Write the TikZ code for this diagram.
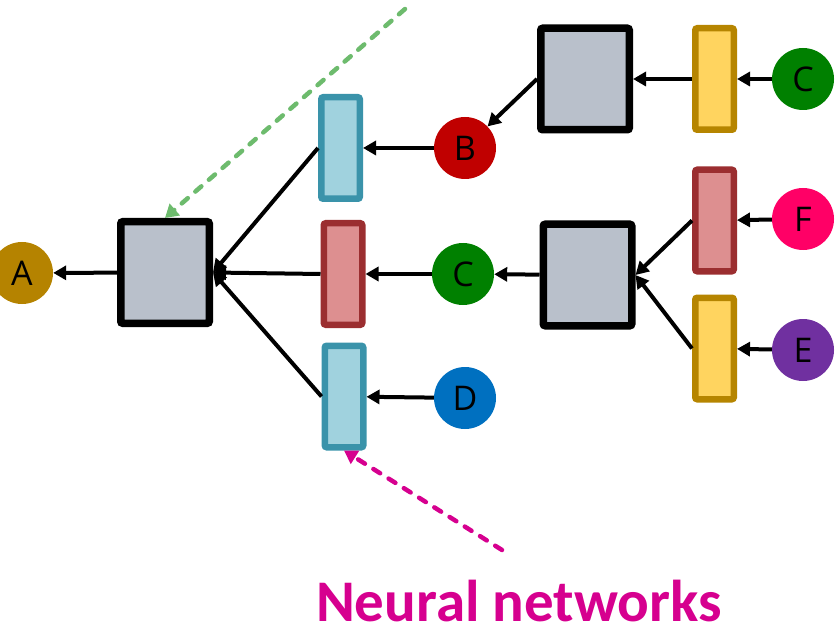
\documentclass[tikz,border=0pt]{standalone}
\usepackage{fontspec}
\setmainfont{Open Sans}
\newfontfamily\notefont{Carlito}
\usepackage{xcolor}
\usepackage{tikz}
\usetikzlibrary{
    positioning,
    arrows.meta
}
\definecolor{boxgray}{HTML}{B9C0CB}
\definecolor{blueedge}{HTML}{3A93AA}
\definecolor{bluefill}{HTML}{A0D2DE}
\definecolor{rededge}{HTML}{9B2E30}
\definecolor{redfill}{HTML}{DD8F90}
\definecolor{yellowedge}{HTML}{B68500}
\definecolor{yellowfill}{HTML}{FFD45F}
\definecolor{wordA}{HTML}{B58300}
\definecolor{wordB}{HTML}{C00000}
\definecolor{wordC}{HTML}{008000}
\definecolor{wordD}{HTML}{0070C0}
\definecolor{wordE}{HTML}{7030A0}
\definecolor{wordF}{HTML}{FF0066}
\definecolor{hintgreen}{HTML}{6DBB6D}
\definecolor{hintpink}{HTML}{D6008F}
\tikzset{
  combiner/.style = {
      draw=black,
      line width=7.5pt,
      fill=boxgray,
      rounded corners=2pt,
      minimum width=88.5pt,
      minimum height=101.5pt,
      inner sep=0pt
  },
  layer/.style = {
      line width=6.5pt,
      rounded corners=2pt,
      minimum width=38.5pt,
      minimum height=101.5pt,
      inner sep=0pt
  },
  bluelayer/.style = {
      layer,
      draw=blueedge,
      fill=bluefill
  },
  redlayer/.style = {
      layer,
      draw=rededge,
      fill=redfill
  },
  yellowlayer/.style = {
      layer,
      draw=yellowedge,
      fill=yellowfill
  },
  word/.style = {
      circle,
      minimum size=62pt,
      inner sep=0pt,
      font=\fontsize{34}{34}\selectfont
  },
  link/.style = {
      line width=4pt,
      -{Triangle[length=13pt,width=14pt]}
  },
  hint/.style = {
      line width=4.5pt,
      line cap=round,
      dash pattern=on 8pt off 10pt,
      -{Triangle[length=13pt,width=15pt]}
  }
}
\begin{document}
\begin{tikzpicture}[x=1pt, y=-1pt]
    \useasboundingbox (0,0) rectangle (837,628);
    % Nodes
    \node[word, fill=wordA] (A) at (22,273) {A};
    \node[combiner] (lbox) at (165,272.5) {};
    \node[bluelayer] (btop) at (340.5,148) {};
    \node[redlayer] (rmid) at (343,274) {};
    \node[bluelayer] (bbot) at (344,396.5) {};
    \node[word, fill=wordB] (B) at (465,148) {B};
    \node[word, fill=wordC] (C2) at (463,274) {C};
    \node[word, fill=wordD] (D) at (465,398) {D};
    \node[combiner] (tbox) at (585,79) {};
    \node[combiner] (mbox) at (587.5,275) {};
    \node[yellowlayer] (ytop) at (714.5,79) {};
    \node[redlayer] (rright) at (714.5,220.5) {};
    \node[yellowlayer] (ybot) at (714.5,348.5) {};
    \node[word, fill=wordC] (C1) at (803,79) {C};
    \node[word, fill=wordF] (F) at (803,219) {F};
    \node[word, fill=wordE] (E) at (803,350) {E};
    \node[font=\notefont\bfseries\fontsize{59}{59}\selectfont, text=hintpink, anchor=base, inner sep=0pt] (nn) at (519,621) {Neural networks};
    \coordinate (gstart) at (405,9);
    \coordinate (pstart) at (502,550);
    % Edges
    \path[link]
    (C1) edge (ytop)
    (ytop) edge (tbox)
    (tbox.west) edge (B)
    (B) edge (btop)
    (F) edge (rright)
    (E) edge (ybot)
    (rright.west) edge (mbox.east)
    (ybot.west) edge (mbox.east)
    (mbox) edge (C2)
    (C2) edge (rmid)
    (D) edge (bbot)
    (btop.west) edge (lbox.east)
    (rmid.west) edge (lbox.east)
    (bbot.west) edge (lbox.east)
    (lbox) edge (A);
    % Hints
    \draw[hint, hintgreen] (gstart) -- (lbox.north);
    \draw[hint, hintpink] (pstart) -- (bbot.south);
\end{tikzpicture}
\end{document}
